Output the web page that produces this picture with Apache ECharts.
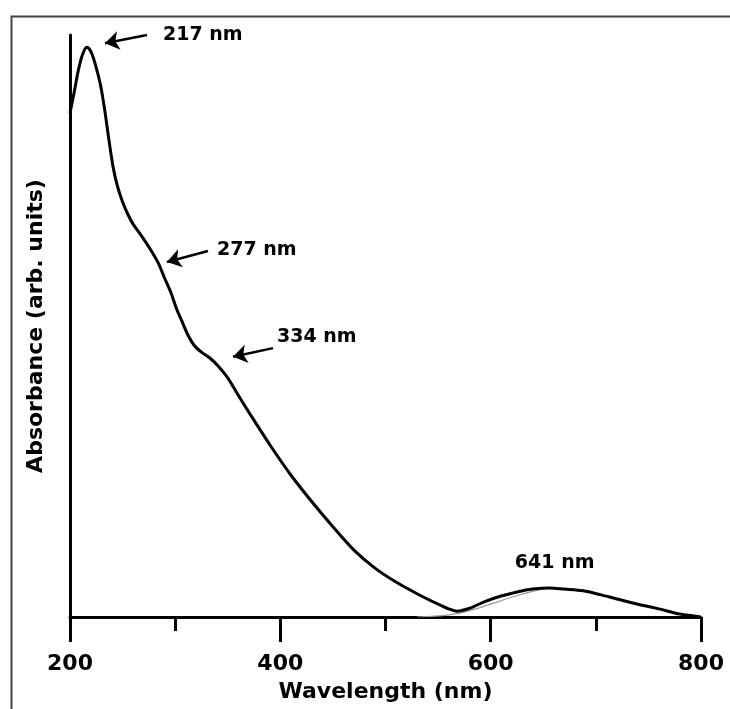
<!DOCTYPE html>
<html><head><meta charset="utf-8">
<script src="https://cdn.jsdelivr.net/npm/echarts@6/dist/echarts.min.js"></script>
<style>html,body{margin:0;padding:0;background:#fff}#c{width:730px;height:709px}</style>
</head><body><div id="c"></div>
<script>
// Spectrum (wavelength in nm, absorbance in arbitrary units, 0..1)
const wavelengths = [200,204,208,212,216,220,224,229,233,237,241,245,250,255,260,266,272,278,284,290,296,301,306,312,318,325,333,341,350,360,370,390,410,430,450,470,490,510,530,550,560,568,580,595,610,625,640,656,670,688,705,720,740,760,780,800];
const absorbance  = [0.866,0.902,0.940,0.967,0.979,0.971,0.950,0.914,0.871,0.820,0.773,0.741,0.713,0.692,0.675,0.660,0.644,0.627,0.608,0.582,0.557,0.531,0.510,0.485,0.467,0.455,0.445,0.431,0.411,0.381,0.352,0.296,0.244,0.198,0.155,0.115,0.084,0.060,0.040,0.022,0.014,0.010,0.015,0.027,0.036,0.043,0.048,0.050,0.048,0.045,0.038,0.031,0.022,0.014,0.005,0.0];
// faint grey second trace near the 641 nm band
const greyWl  = [530,550,565,580,600,620,640,656];
const greyAbs = [0.0,0.002,0.005,0.011,0.022,0.034,0.044,0.050];
// x axis ticks
const xMin = 200, xMax = 800, xStep = 200;
// peak annotations
const peakLabels   = ['217 nm','277 nm','334 nm','641 nm'];
const labelWl      = [288.4, 339.8, 396.8, 623];
const labelAbs     = [1.0, 0.631, 0.481, 0.093];
const arrowTailWl  = [273.2, 331.2, 393];
const arrowTailAbs = [1.0, 0.629, 0.462];
const arrowTipWl   = [233.3, 292.2, 355];
const arrowTipAbs  = [0.986, 0.610, 0.447];

const FONT = 'DejaVu Sans';
const chart = echarts.init(document.getElementById('c'), null, {renderer:'canvas'});
const spectrum = wavelengths.map((w,i)=>[w, absorbance[i]]);
const grey = greyWl.map((w,i)=>[w, greyAbs[i]]);
const labels = peakLabels.map((t,i)=>({name:t, value:[labelWl[i], labelAbs[i]]}));
const arrows = arrowTailWl.map((w,i)=>[{coord:[w, arrowTailAbs[i]]},{coord:[arrowTipWl[i], arrowTipAbs[i]]}]);

chart.setOption({
  animation:false,
  backgroundColor:'#fff',
  graphic:[{type:'rect', left:9, top:14, shape:{width:740, height:720}, style:{fill:'none', stroke:'#444', lineWidth:2}, silent:true, z:-1}],
  grid:{left:70, top:35, width:631, height:582},
  xAxis:{type:'value', min:xMin, max:xMax, interval:xStep,
    name:'Wavelength (nm)', nameLocation:'middle', nameGap:64,
    nameTextStyle:{fontFamily:FONT, fontWeight:'bold', fontSize:22, color:'#000'},
    axisLine:{show:true, lineStyle:{color:'#000', width:3}},
    axisTick:{show:true, inside:false, length:25, lineStyle:{color:'#000', width:3}},
    minorTick:{show:true, splitNumber:2, length:14, lineStyle:{color:'#000', width:3}},
    axisLabel:{margin:36, fontFamily:FONT, fontWeight:'bold', fontSize:22, color:'#000'},
    splitLine:{show:false}, minorSplitLine:{show:false}},
  yAxis:{type:'value', min:0, max:1,
    name:'Absorbance (arb. units)', nameLocation:'middle', nameGap:23, nameRotate:90,
    nameTextStyle:{fontFamily:FONT, fontWeight:'bold', fontSize:22, color:'#000'},
    axisLine:{show:true, lineStyle:{color:'#000', width:3}},
    axisTick:{show:false}, axisLabel:{show:false}, splitLine:{show:false}},
  series:[
    {type:'line', data:grey, smooth:true, symbol:'none', lineStyle:{color:'#9a9a9a', width:1.2}, z:2},
    {type:'line', data:spectrum, smooth:0.3, symbol:'none', lineStyle:{color:'#000', width:3}, z:3,
      markLine:{silent:true, symbol:['none','arrow'], symbolSize:14, label:{show:false},
        lineStyle:{color:'#000', width:2.5, type:'solid', opacity:1}, data:arrows}},
    {type:'scatter', data:labels, symbolSize:0, z:4, itemStyle:{opacity:1},
      label:{show:true, position:'right', distance:0, formatter:p=>p.name, opacity:1,
        fontFamily:FONT, fontWeight:'bold', fontSize:19, color:'#000'}}
  ]
});
</script></body></html>
